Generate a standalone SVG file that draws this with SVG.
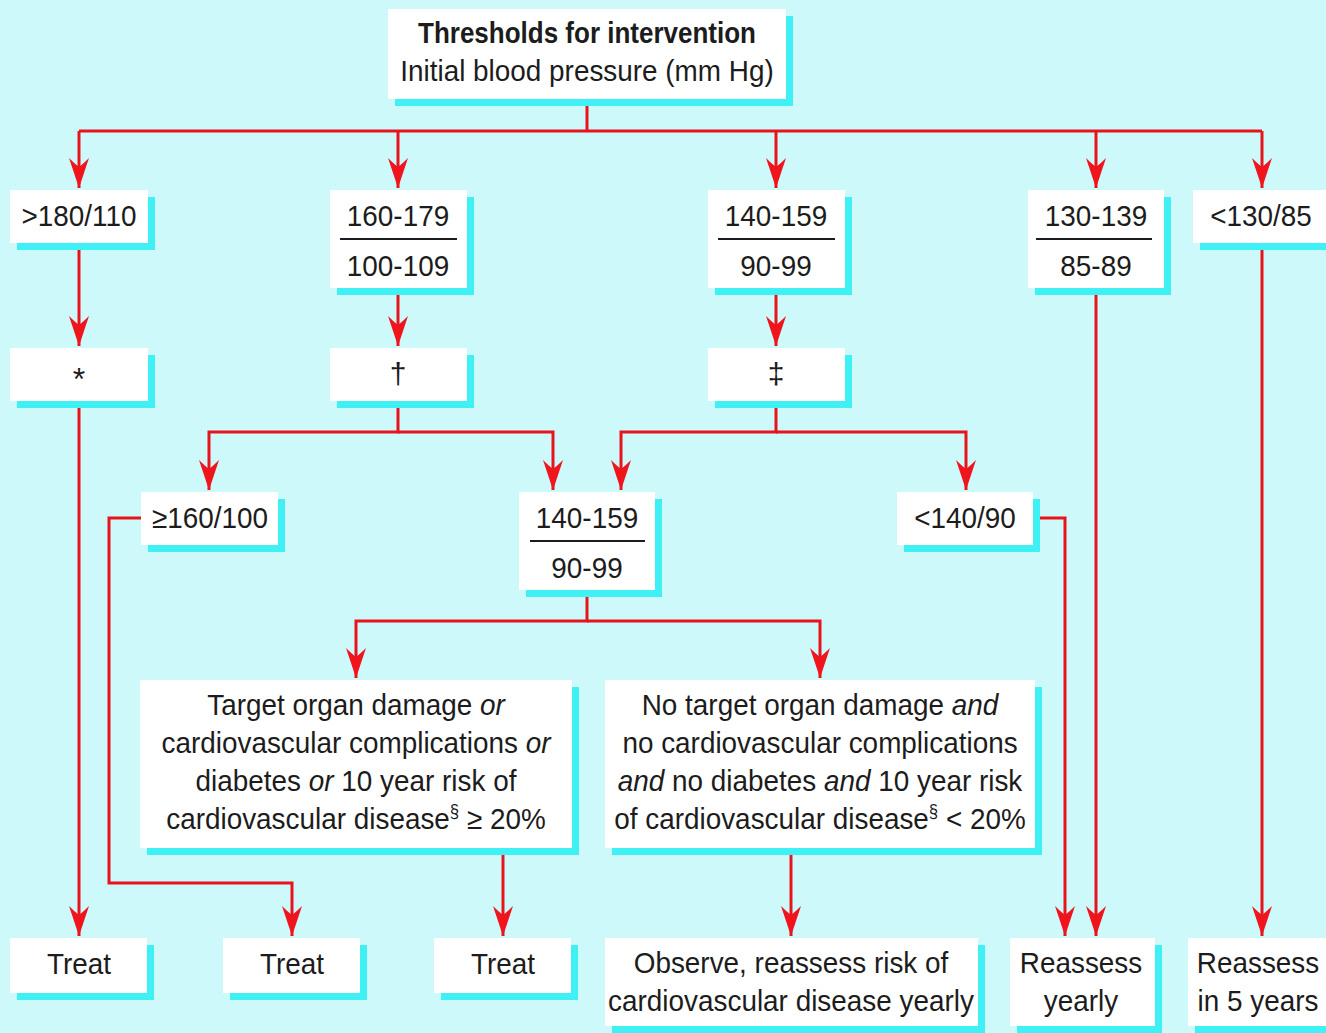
<svg xmlns="http://www.w3.org/2000/svg" width="1326" height="1033" viewBox="0 0 1326 1033">
<style>
.bg{fill:#cdf9fb}
.sh{fill:#3ff0f4}
.bx{fill:#ffffff}
text{font-family:"Liberation Sans",Arial,sans-serif;font-size:30px;fill:#1c1c1c;text-anchor:middle}
.b{font-weight:bold}
.i{font-style:italic}
.rule{stroke:#1c1c1c;stroke-width:2}
.c{fill:none;stroke:#e8141c;stroke-width:3;marker-end:url(#arr)}
.cn{fill:none;stroke:#e8141c;stroke-width:3}
</style>
<defs>
<marker id="arr" markerUnits="userSpaceOnUse" viewBox="0 0 30 20" markerWidth="30" markerHeight="20" refX="30" refY="10" orient="auto">
<path d="M30,10 L0,0 Q6,6 9,10 Q6,14 0,20 Z" fill="#f0141c"/>
</marker>
</defs>
<rect class="bg" x="0" y="0" width="1326" height="1033"/>

<g id="connectors">
<path class="cn" d="M587,99 V131 M79,131 H1262"/>
<path class="c" d="M79,131 V188"/>
<path class="c" d="M398,131 V188"/>
<path class="c" d="M776,131 V188"/>
<path class="c" d="M1096,131 V188"/>
<path class="c" d="M1262,131 V188"/>
<path class="c" d="M79,243 V346"/>
<path class="c" d="M398,288 V346"/>
<path class="c" d="M776,288 V346"/>
<path class="c" d="M79,401 V936"/>
<path class="c" d="M398,401 V432 H209 V490"/>
<path class="c" d="M398,432 H553 V490"/>
<path class="c" d="M776,401 V432 H621 V490"/>
<path class="c" d="M776,432 H966 V490"/>
<path class="c" d="M141,518 H109 V883 H292 V936"/>
<path class="c" d="M1033,518 H1065 V936"/>
<path class="c" d="M1096,288 V936"/>
<path class="c" d="M1262,243 V936"/>
<path class="c" d="M587,590 V621 H356 V678"/>
<path class="c" d="M587,621 H820 V678"/>
<path class="c" d="M503,848 V936"/>
<path class="c" d="M791,848 V936"/>
</g>

<g id="n-title">
<rect class="sh" x="395" y="16" width="398" height="90"/>
<rect class="bx" x="388" y="9" width="398" height="90"/>
<text class="b" x="587" y="43" textLength="338" lengthAdjust="spacingAndGlyphs">Thresholds for intervention</text>
<text transform="translate(587 0) scale(0.93 1)" y="81">Initial blood pressure (mm Hg)</text>
</g>

<g id="n-gt180">
<rect class="sh" x="17" y="197" width="138" height="53"/>
<rect class="bx" x="10" y="190" width="138" height="53"/>
<text transform="translate(79 0) scale(0.93 1)" y="226">&gt;180/110</text>
</g>
<g id="n-160">
<rect class="sh" x="337" y="197" width="137" height="98"/>
<rect class="bx" x="330" y="190" width="137" height="98"/>
<text transform="translate(398 0) scale(0.93 1)" y="226">160-179</text>
<line class="rule" x1="340" y1="239" x2="457" y2="239"/>
<text transform="translate(398 0) scale(0.93 1)" y="276">100-109</text>
</g>
<g id="n-140">
<rect class="sh" x="715" y="197" width="137" height="98"/>
<rect class="bx" x="708" y="190" width="137" height="98"/>
<text transform="translate(776 0) scale(0.93 1)" y="226">140-159</text>
<line class="rule" x1="718" y1="239" x2="835" y2="239"/>
<text transform="translate(776 0) scale(0.93 1)" y="276">90-99</text>
</g>
<g id="n-130">
<rect class="sh" x="1035" y="197" width="136" height="98"/>
<rect class="bx" x="1028" y="190" width="136" height="98"/>
<text transform="translate(1096 0) scale(0.93 1)" y="226">130-139</text>
<line class="rule" x1="1036" y1="239" x2="1152" y2="239"/>
<text transform="translate(1096 0) scale(0.93 1)" y="276">85-89</text>
</g>
<g id="n-lt130">
<rect class="sh" x="1200" y="197" width="140" height="53"/>
<rect class="bx" x="1193" y="190" width="140" height="53"/>
<text transform="translate(1261 0) scale(0.93 1)" y="226">&lt;130/85</text>
</g>

<g id="n-star">
<rect class="sh" x="17" y="355" width="138" height="53"/>
<rect class="bx" x="10" y="348" width="138" height="53"/>
<text x="79" y="390" style="font-size:32px">*</text>
</g>
<g id="n-dagger">
<rect class="sh" x="337" y="355" width="137" height="53"/>
<rect class="bx" x="330" y="348" width="137" height="53"/>
<text x="398" y="384">†</text>
</g>
<g id="n-ddagger">
<rect class="sh" x="715" y="355" width="137" height="53"/>
<rect class="bx" x="708" y="348" width="137" height="53"/>
<text x="776" y="384">‡</text>
</g>

<g id="n-ge160">
<rect class="sh" x="148" y="499" width="137" height="53"/>
<rect class="bx" x="141" y="492" width="137" height="53"/>
<text transform="translate(210 0) scale(0.93 1)" y="528">≥160/100</text>
</g>
<g id="n-mid140">
<rect class="sh" x="526" y="499" width="136" height="98"/>
<rect class="bx" x="519" y="492" width="136" height="98"/>
<text transform="translate(587 0) scale(0.93 1)" y="528">140-159</text>
<line class="rule" x1="530" y1="541" x2="645" y2="541"/>
<text transform="translate(587 0) scale(0.93 1)" y="578">90-99</text>
</g>
<g id="n-lt140">
<rect class="sh" x="904" y="499" width="136" height="53"/>
<rect class="bx" x="897" y="492" width="136" height="53"/>
<text transform="translate(965 0) scale(0.93 1)" y="528">&lt;140/90</text>
</g>

<g id="n-damage">
<rect class="sh" x="147" y="687" width="432" height="168"/>
<rect class="bx" x="140" y="680" width="432" height="168"/>
<text transform="translate(356 0) scale(0.93 1)" y="715">Target organ damage <tspan class="i">or</tspan></text>
<text transform="translate(356 0) scale(0.93 1)" y="753">cardiovascular complications <tspan class="i">or</tspan></text>
<text transform="translate(356 0) scale(0.93 1)" y="791">diabetes <tspan class="i">or</tspan> 10 year risk of</text>
<text transform="translate(356 0) scale(0.93 1)" y="829">cardiovascular disease<tspan style="font-size:18px" dy="-12">§</tspan><tspan dy="12"> ≥ 20%</tspan></text>
</g>
<g id="n-nodamage">
<rect class="sh" x="612" y="687" width="430" height="168"/>
<rect class="bx" x="605" y="680" width="430" height="168"/>
<text transform="translate(820 0) scale(0.93 1)" y="715">No target organ damage <tspan class="i">and</tspan></text>
<text transform="translate(820 0) scale(0.93 1)" y="753">no cardiovascular complications</text>
<text transform="translate(820 0) scale(0.93 1)" y="791"><tspan class="i">and</tspan> no diabetes <tspan class="i">and</tspan> 10 year risk</text>
<text transform="translate(820 0) scale(0.93 1)" y="829">of cardiovascular disease<tspan style="font-size:18px" dy="-12">§</tspan><tspan dy="12"> &lt; 20%</tspan></text>
</g>

<g id="n-treat1">
<rect class="sh" x="17" y="945" width="137" height="55"/>
<rect class="bx" x="10" y="938" width="137" height="55"/>
<text transform="translate(79 0) scale(0.93 1)" y="974">Treat</text>
</g>
<g id="n-treat2">
<rect class="sh" x="230" y="945" width="137" height="55"/>
<rect class="bx" x="223" y="938" width="137" height="55"/>
<text transform="translate(292 0) scale(0.93 1)" y="974">Treat</text>
</g>
<g id="n-treat3">
<rect class="sh" x="441" y="945" width="137" height="55"/>
<rect class="bx" x="434" y="938" width="137" height="55"/>
<text transform="translate(503 0) scale(0.93 1)" y="974">Treat</text>
</g>
<g id="n-observe">
<rect class="sh" x="612" y="945" width="373" height="88"/>
<rect class="bx" x="605" y="938" width="373" height="88"/>
<text transform="translate(791 0) scale(0.93 1)" y="973">Observe, reassess risk of</text>
<text transform="translate(791 0) scale(0.93 1)" y="1011">cardiovascular disease yearly</text>
</g>
<g id="n-reyearly">
<rect class="sh" x="1017" y="945" width="145" height="88"/>
<rect class="bx" x="1010" y="938" width="145" height="88"/>
<text transform="translate(1081 0) scale(0.93 1)" y="973">Reassess</text>
<text transform="translate(1081 0) scale(0.93 1)" y="1011">yearly</text>
</g>
<g id="n-re5">
<rect class="sh" x="1195" y="945" width="150" height="88"/>
<rect class="bx" x="1188" y="938" width="150" height="88"/>
<text transform="translate(1258 0) scale(0.93 1)" y="973">Reassess</text>
<text transform="translate(1258 0) scale(0.93 1)" y="1011">in 5 years</text>
</g>
</svg>
